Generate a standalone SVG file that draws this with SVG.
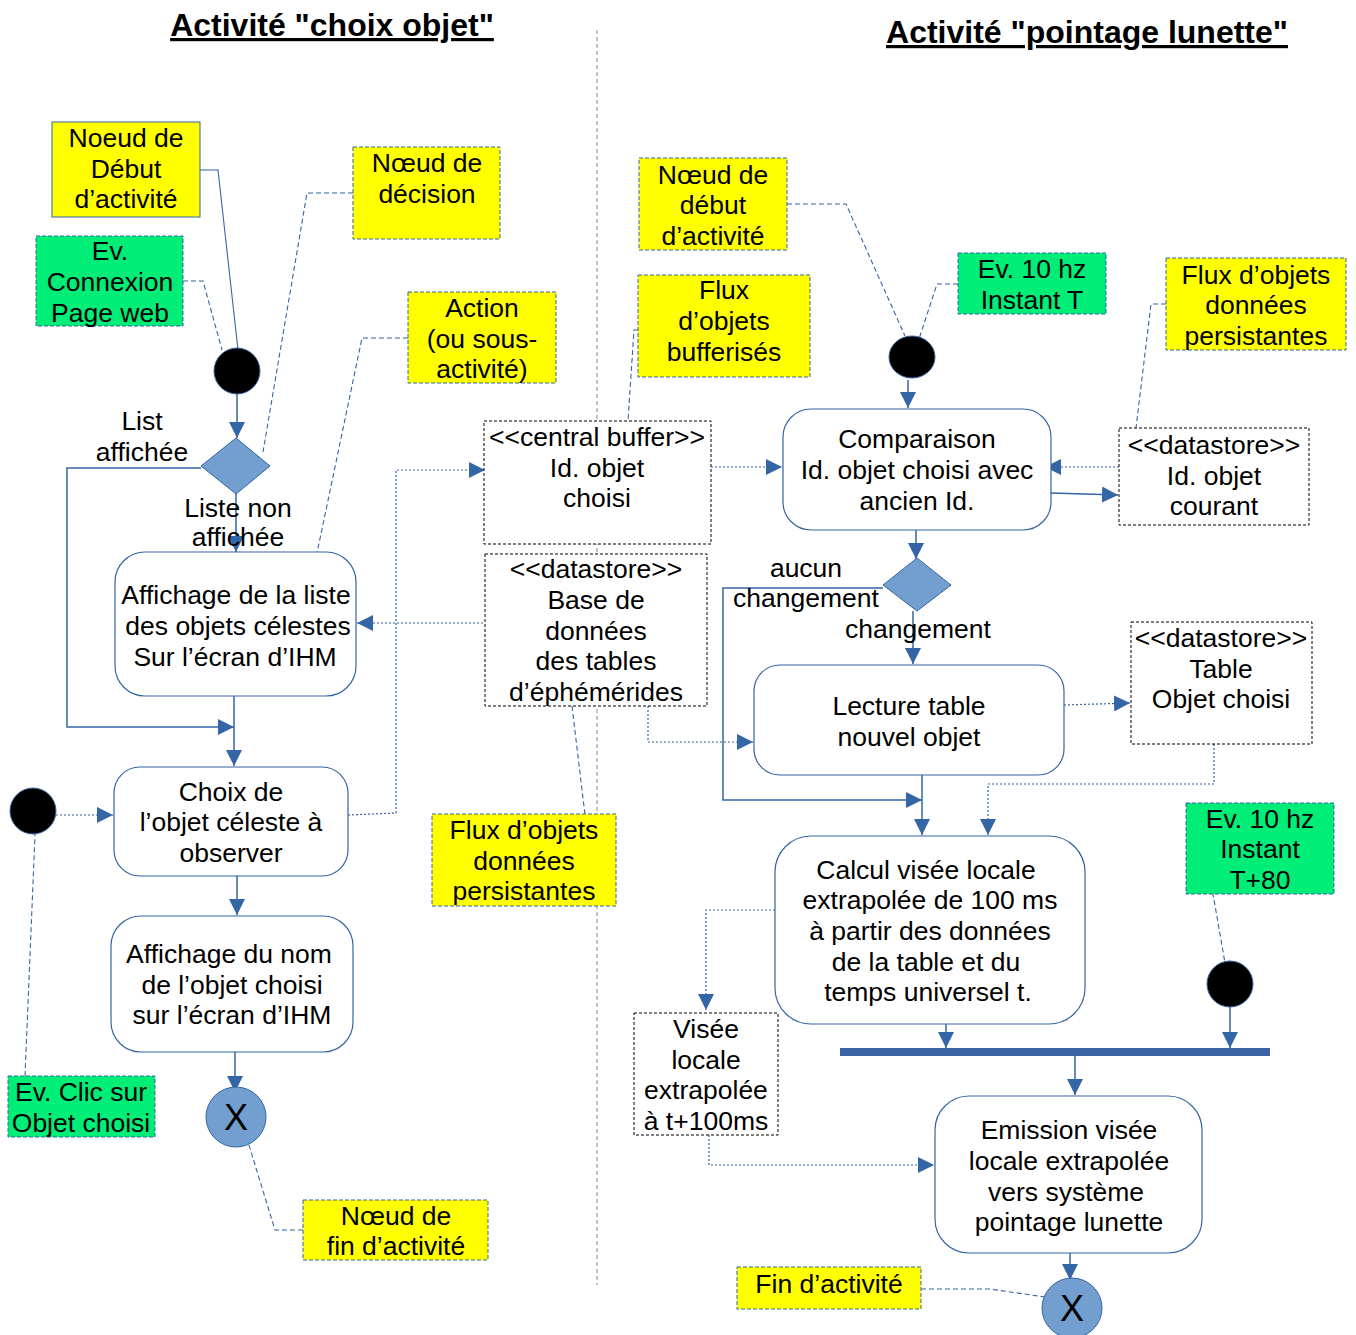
<svg xmlns="http://www.w3.org/2000/svg" width="1356" height="1335" viewBox="0 0 1356 1335">
  <style>
    text { font-family: "Liberation Sans", Arial, sans-serif; font-size: 26.5px; fill: #000; text-anchor: middle; }
    .title { font-size: 32px; font-weight: bold; text-decoration: underline; }
    .note-y { fill: #ffff00; stroke: #3465a4; stroke-width: 1; stroke-dasharray: 4 2; }
    .note-y-solid { fill: #ffff00; stroke: #3465a4; stroke-width: 1; }
    .note-g { fill: #00ee77; stroke: #3465a4; stroke-width: 1; stroke-dasharray: 4 2; }
    .action { fill: #fff; stroke: #3465a4; stroke-width: 1.2; }
    .store { fill: #fff; stroke: #000; stroke-width: 1; stroke-dasharray: 3 2; }
    .start { fill: #000; stroke: #3465a4; stroke-width: 1; }
    .final { fill: #729fcf; stroke: #3465a4; stroke-width: 1; }
    .decision { fill: #729fcf; stroke: #3465a4; stroke-width: 1; }
    .flow { fill: none; stroke: #3465a4; stroke-width: 1.5; }
    .obj { fill: none; stroke: #3465a4; stroke-width: 1.2; stroke-dasharray: 2 2; }
    .anchor { fill: none; stroke: #3465a4; stroke-width: 1.1; stroke-dasharray: 5 3; }
    .anchor-solid { fill: none; stroke: #3465a4; stroke-width: 1.1; }
    .sep { fill: none; stroke: #888; stroke-width: 1; stroke-dasharray: 4 3; }
    .x { font-size: 36px; }
  </style>
  <defs>
    <marker id="arr" viewBox="0 0 16 16" refX="16" refY="8" markerWidth="16" markerHeight="16" markerUnits="userSpaceOnUse" orient="auto">
      <path d="M0,0 L16,8 L0,16 z" fill="#3465a4"/>
    </marker>
  </defs>

  <rect width="1356" height="1335" fill="#fff"/>

  <!-- titles and swimlane separator -->
  <text class="title" x="332" y="36">Activité "choix objet"</text>
  <text class="title" x="1087" y="43">Activité "pointage lunette"</text>
  <line class="sep" x1="597" y1="30" x2="597" y2="1285"/>

  <!-- connectors -->
  <g id="connectors">
    <!-- annotation anchors, left activity -->
    <polyline class="anchor-solid" points="200,170 218,170 238,350"/>
    <polyline class="anchor" points="183,281 203,281 222,350"/>
    <polyline class="anchor" points="353,193 307,193 263,452"/>
    <polyline class="anchor" points="408,338 362,338 317,553"/>
    <polyline class="anchor" points="25,1076 36,811"/>
    <polyline class="anchor" points="303,1230 275,1230 248,1142"/>
    <!-- annotation anchors, middle -->
    <polyline class="anchor" points="638,330 634,330 628,421"/>
    <polyline class="anchor" points="572,706 588,840 593,860 616,860"/>
    <!-- annotation anchors, right activity -->
    <polyline class="anchor" points="787,204 846,204 905,336"/>
    <polyline class="anchor" points="958,284 937,284 917,345"/>
    <polyline class="anchor" points="1166,304 1151,304 1136,428"/>
    <polyline class="anchor" points="1186,848 1205,848 1225,963"/>
    <polyline class="anchor" points="921,1289 990,1289 1045,1297"/>

    <!-- control flows, left activity -->
    <line class="flow" x1="237" y1="394" x2="237" y2="438" marker-end="url(#arr)"/>
    <polyline class="flow" points="201,468 67,468 67,727 234,727" marker-end="url(#arr)"/>
    <line class="flow" x1="236" y1="494" x2="236" y2="552" marker-end="url(#arr)"/>
    <line class="flow" x1="234" y1="696" x2="234" y2="766" marker-end="url(#arr)"/>
    <line class="flow" x1="237" y1="876" x2="237" y2="915" marker-end="url(#arr)"/>
    <line class="flow" x1="235" y1="1052" x2="235" y2="1092" marker-end="url(#arr)"/>

    <!-- object flows, left activity -->
    <line class="obj" x1="56" y1="815" x2="113" y2="815" marker-end="url(#arr)"/>
    <line class="obj" x1="487" y1="623" x2="357" y2="623" marker-end="url(#arr)"/>
    <polyline class="obj" points="348,815 396,813 396,470 485,470" marker-end="url(#arr)"/>

    <!-- object flows, middle to right -->
    <line class="obj" x1="711" y1="467" x2="782" y2="467" marker-end="url(#arr)"/>
    <polyline class="obj" points="648,706 648,742 753,742" marker-end="url(#arr)"/>

    <!-- control flows, right activity -->
    <line class="flow" x1="908" y1="380" x2="908" y2="408" marker-end="url(#arr)"/>
    <line class="flow" x1="916" y1="530" x2="916" y2="559" marker-end="url(#arr)"/>
    <polyline class="flow" points="883,588 723,588 723,800 922,800" marker-end="url(#arr)"/>
    <line class="flow" x1="913" y1="611" x2="913" y2="664" marker-end="url(#arr)"/>
    <line class="flow" x1="922" y1="775" x2="922" y2="835" marker-end="url(#arr)"/>
    <line class="flow" x1="1051" y1="493" x2="1118" y2="495" marker-end="url(#arr)"/>
    <line class="flow" x1="946" y1="1008" x2="946" y2="1048" marker-end="url(#arr)"/>
    <line class="flow" x1="1230" y1="1006" x2="1230" y2="1048" marker-end="url(#arr)"/>
    <line class="flow" x1="1075" y1="1056" x2="1075" y2="1095" marker-end="url(#arr)"/>
    <line class="flow" x1="1070" y1="1242" x2="1070" y2="1280" marker-end="url(#arr)"/>

    <!-- object flows, right activity -->
    <line class="obj" x1="1119" y1="467" x2="1045" y2="467" marker-end="url(#arr)"/>
    <line class="obj" x1="1064" y1="705" x2="1130" y2="703" marker-end="url(#arr)"/>
    <polyline class="obj" points="1214,744 1214,784 988,784 988,835" marker-end="url(#arr)"/>
    <polyline class="obj" points="775,910 706,910 706,1010" marker-end="url(#arr)"/>
    <polyline class="obj" points="709,1135 709,1165 934,1165" marker-end="url(#arr)"/>
  </g>

  <!-- left activity: notes -->
  <g id="note-debut-left">
    <rect class="note-y-solid" x="52" y="122" width="148" height="95"/>
    <text x="126" y="147">Noeud de</text>
    <text x="126" y="178">Début</text>
    <text x="126" y="208">d’activité</text>
  </g>
  <g id="ev-connexion">
    <rect class="note-g" x="36" y="236" width="147" height="90"/>
    <text x="110" y="260">Ev.</text>
    <text x="110" y="291">Connexion</text>
    <text x="110" y="322">Page web</text>
  </g>
  <g id="note-decision">
    <rect class="note-y" x="353" y="147" width="147" height="92"/>
    <text x="427" y="172">Nœud de</text>
    <text x="427" y="203">décision</text>
  </g>
  <g id="note-action">
    <rect class="note-y" x="408" y="292" width="148" height="91"/>
    <text x="482" y="317">Action</text>
    <text x="482" y="348">(ou sous-</text>
    <text x="482" y="378">activité)</text>
  </g>
  <g id="ev-clic">
    <rect class="note-g" x="8" y="1076" width="147" height="61"/>
    <text x="81" y="1101">Ev. Clic sur</text>
    <text x="81" y="1132">Objet choisi</text>
  </g>
  <g id="note-fin-left">
    <rect class="note-y" x="303" y="1200" width="185" height="60"/>
    <text x="396" y="1225">Nœud de</text>
    <text x="396" y="1255">fin d’activité</text>
  </g>

  <!-- left activity: nodes -->
  <g id="start-left">
    <circle class="start" cx="237" cy="371" r="23"/>
  </g>
  <g id="decision-liste">
    <polygon class="decision" points="201,466 236,438 270,466 236,494"/>
    <text x="142" y="430">List</text>
    <text x="142" y="461">affichée</text>
    <text x="238" y="517">Liste non</text>
    <text x="238" y="546">affichée</text>
  </g>
  <g id="action-affichage-liste">
    <rect class="action" x="115" y="552" width="241" height="144" rx="30"/>
    <text x="236" y="604">Affichage de la liste</text>
    <text x="238" y="635">des objets célestes</text>
    <text x="235" y="666">Sur l’écran d’IHM</text>
  </g>
  <g id="start-clic">
    <circle class="start" cx="33" cy="811" r="23"/>
  </g>
  <g id="action-choix">
    <rect class="action" x="114" y="767" width="234" height="109" rx="26"/>
    <text x="231" y="801">Choix de</text>
    <text x="231" y="831">l’objet céleste à</text>
    <text x="231" y="862">observer</text>
  </g>
  <g id="action-affichage-nom">
    <rect class="action" x="111" y="916" width="242" height="136" rx="30"/>
    <text x="229" y="963">Affichage du nom</text>
    <text x="232" y="994">de l’objet choisi</text>
    <text x="232" y="1024">sur l’écran d’IHM</text>
  </g>
  <g id="final-left">
    <circle class="final" cx="236" cy="1117" r="30"/>
    <text class="x" x="236" y="1130">X</text>
  </g>

  <!-- middle: object nodes and notes -->
  <g id="buffer-id-objet">
    <rect class="store" x="484" y="421" width="227" height="123"/>
    <text x="597" y="446">&lt;&lt;central buffer&gt;&gt;</text>
    <text x="597" y="477">Id. objet</text>
    <text x="597" y="507">choisi</text>
  </g>
  <g id="store-ephemerides">
    <rect class="store" x="485" y="554" width="222" height="152"/>
    <text x="596" y="578">&lt;&lt;datastore&gt;&gt;</text>
    <text x="596" y="609">Base de</text>
    <text x="596" y="640">données</text>
    <text x="596" y="670">des tables</text>
    <text x="596" y="701">d’éphémérides</text>
  </g>
  <g id="note-bufferises">
    <rect class="note-y" x="638" y="275" width="172" height="102"/>
    <text x="724" y="299">Flux</text>
    <text x="724" y="330">d’objets</text>
    <text x="724" y="361">bufferisés</text>
  </g>
  <g id="note-persistantes-mid">
    <rect class="note-y" x="432" y="814" width="184" height="92"/>
    <text x="524" y="839">Flux d’objets</text>
    <text x="524" y="870">données</text>
    <text x="524" y="900">persistantes</text>
  </g>

  <!-- right activity: notes -->
  <g id="note-debut-right">
    <rect class="note-y" x="639" y="158" width="148" height="92"/>
    <text x="713" y="184">Nœud de</text>
    <text x="713" y="214">début</text>
    <text x="713" y="245">d’activité</text>
  </g>
  <g id="ev-10hz-t">
    <rect class="note-g" x="958" y="253" width="148" height="61"/>
    <text x="1032" y="278">Ev. 10 hz</text>
    <text x="1032" y="309">Instant T</text>
  </g>
  <g id="note-persistantes-right">
    <rect class="note-y" x="1166" y="258" width="180" height="92"/>
    <text x="1256" y="284">Flux d’objets</text>
    <text x="1256" y="314">données</text>
    <text x="1256" y="345">persistantes</text>
  </g>
  <g id="ev-10hz-t80">
    <rect class="note-g" x="1186" y="803" width="148" height="91"/>
    <text x="1260" y="828">Ev. 10 hz</text>
    <text x="1260" y="858">Instant</text>
    <text x="1260" y="889">T+80</text>
  </g>
  <g id="note-fin-right">
    <rect class="note-y" x="737" y="1267" width="184" height="42"/>
    <text x="829" y="1293">Fin d’activité</text>
  </g>

  <!-- right activity: nodes -->
  <g id="start-right">
    <ellipse class="start" cx="912" cy="357" rx="23" ry="21"/>
  </g>
  <g id="action-comparaison">
    <rect class="action" x="783" y="409" width="268" height="121" rx="28"/>
    <text x="917" y="448">Comparaison</text>
    <text x="917" y="479">Id. objet choisi avec</text>
    <text x="917" y="510">ancien Id.</text>
  </g>
  <g id="store-id-courant">
    <rect class="store" x="1119" y="428" width="190" height="97"/>
    <text x="1214" y="454">&lt;&lt;datastore&gt;&gt;</text>
    <text x="1214" y="485">Id. objet</text>
    <text x="1214" y="515">courant</text>
  </g>
  <g id="decision-changement">
    <polygon class="decision" points="883,585 917,558 951,585 917,611"/>
    <text x="806" y="577">aucun</text>
    <text x="806" y="607">changement</text>
    <text x="918" y="638">changement</text>
  </g>
  <g id="action-lecture">
    <rect class="action" x="754" y="665" width="310" height="110" rx="26"/>
    <text x="909" y="715">Lecture table</text>
    <text x="909" y="746">nouvel objet</text>
  </g>
  <g id="store-table-objet">
    <rect class="store" x="1131" y="622" width="181" height="122"/>
    <text x="1221" y="647">&lt;&lt;datastore&gt;&gt;</text>
    <text x="1221" y="678">Table</text>
    <text x="1221" y="708">Objet choisi</text>
  </g>
  <g id="action-calcul">
    <rect class="action" x="775" y="836" width="310" height="188" rx="36"/>
    <text x="926" y="879">Calcul visée locale</text>
    <text x="930" y="909">extrapolée de 100 ms</text>
    <text x="930" y="940">à partir des données</text>
    <text x="926" y="971">de la table et du</text>
    <text x="928" y="1001">temps universel t.</text>
  </g>
  <g id="store-visee">
    <rect class="store" x="634" y="1013" width="144" height="122"/>
    <text x="706" y="1038">Visée</text>
    <text x="706" y="1069">locale</text>
    <text x="706" y="1099">extrapolée</text>
    <text x="706" y="1130">à t+100ms</text>
  </g>
  <g id="start-t80">
    <circle class="start" cx="1230" cy="984" r="23"/>
  </g>
  <g id="join-bar">
    <rect x="840" y="1048" width="430" height="8" fill="#3a64a6"/>
  </g>
  <g id="action-emission">
    <rect class="action" x="935" y="1096" width="267" height="157" rx="34"/>
    <text x="1069" y="1139">Emission visée</text>
    <text x="1069" y="1170">locale extrapolée</text>
    <text x="1066" y="1201">vers système</text>
    <text x="1069" y="1231">pointage lunette</text>
  </g>
  <g id="final-right">
    <circle class="final" cx="1072" cy="1308" r="30"/>
    <text class="x" x="1072" y="1321">X</text>
  </g>
</svg>
